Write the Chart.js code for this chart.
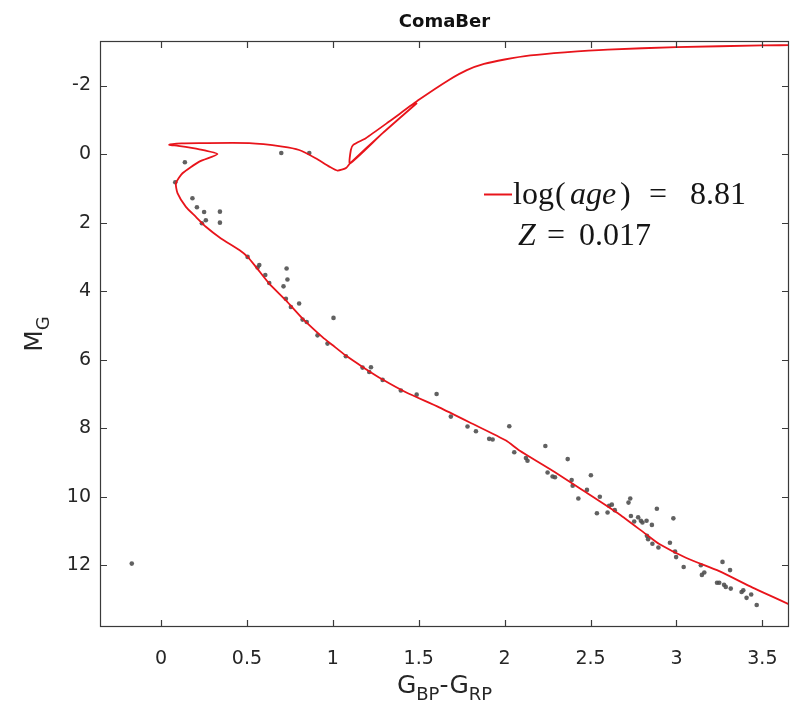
<!DOCTYPE html>
<html>
<head>
<meta charset="utf-8">
<title>ComaBer</title>
<script src="https://cdn.jsdelivr.net/npm/chart.js@4.4.1/dist/chart.umd.min.js"></script>
<style>
  html, body { margin: 0; padding: 0; background: #ffffff; }
  #wrap { width: 790px; height: 705px; }
</style>
</head>
<body>
<div id="wrap"><canvas id="cmd" width="790" height="705"></canvas></div>
<script>
// PARSEC-style isochrone, traced from the faint end of the main sequence to the AGB
const isoColor = [3.70, 3.656, 3.443, 3.249, 3.055, 2.90, 2.822, 2.667, 2.473, 2.279, 2.086, 2.008,
  1.813, 1.619, 1.425, 1.29, 1.173, 1.076, 1.00, 0.94, 0.824, 0.727, 0.63, 0.552, 0.504, 0.456,
  0.349, 0.261, 0.203, 0.145, 0.096, 0.087, 0.125, 0.223, 0.329, 0.223, 0.10, 0.048, 0.12, 0.222,
  0.514, 0.707, 0.804, 0.90, 0.98, 1.027, 1.076, 1.10, 1.29, 1.49, 1.29, 1.10, 1.105, 1.119,
  1.192, 1.328, 1.503, 1.678, 1.78, 1.88, 2.0, 2.15, 2.35, 2.6, 3.0, 3.5, 3.7];
const isoMag = [13.27, 13.14, 12.65, 12.17, 11.78, 11.38, 11.09, 10.51, 9.87, 9.24, 8.65, 8.36,
  7.87, 7.39, 6.95, 6.58, 6.21, 5.88, 5.58, 5.34, 4.80, 4.27, 3.78, 3.29, 3.00, 2.80,
  2.46, 2.12, 1.83, 1.54, 1.14, 0.85, 0.56, 0.22, 0.0, -0.14, -0.24, -0.27, -0.31, -0.32,
  -0.32, -0.22, -0.12, 0.12, 0.365, 0.48, 0.41, 0.27, -0.61, -1.49, -0.61, 0.27, -0.12, -0.27,
  -0.465, -0.95, -1.59, -2.17, -2.45, -2.63, -2.76, -2.88, -2.97, -3.05, -3.12, -3.17, -3.18];

// Cluster members: BP-RP colour and absolute G magnitude
const starColor = [-0.17, 0.70, 0.863, 0.139, 0.083, 0.183, 0.209, 0.251, 0.343, 0.261, 0.238, 0.343,
  0.504, 0.572, 0.562, 0.607, 0.63, 0.731, 0.736, 0.713, 0.727, 0.756, 0.804, 0.824, 0.848, 1.004,
  0.911, 0.969, 1.076, 1.173, 1.222,
  1.212, 1.29, 1.396, 1.488, 1.604, 1.687, 1.784, 1.833, 1.91, 1.93, 2.027, 2.056, 2.124, 2.133,
  2.237, 2.25, 2.279,
  2.293, 2.367, 2.39, 2.396, 2.429, 2.479, 2.502, 2.537, 2.554, 2.599, 2.608, 2.624, 2.641, 2.721,
  2.731, 2.735, 2.754, 2.777, 2.793, 2.802, 2.826, 2.857, 2.886, 2.828, 2.835, 2.86, 2.895, 2.962,
  2.982, 2.992, 2.998, 3.042, 3.142, 3.148, 3.162, 3.236, 3.249, 3.268, 3.277, 3.287, 3.316, 3.312,
  3.379, 3.389, 3.408, 3.435, 3.467];
const starMag = [11.95, -0.03, -0.03, 0.24, 0.82, 1.29, 1.55, 1.69, 1.68, 1.93, 2.02, 2.00,
  3.00, 3.24, 3.31, 3.53, 3.76, 3.34, 3.66, 3.86, 4.22, 4.46, 4.36, 4.83, 4.90, 4.78,
  5.29, 5.53, 5.90, 6.23, 6.22,
  6.36, 6.59, 6.90, 7.02, 7.00, 7.66, 7.95, 8.09, 8.31, 8.33, 7.94, 8.70, 8.87, 8.95,
  8.52, 9.29, 9.41,
  9.43, 8.90, 9.51, 9.68, 10.05, 9.80, 9.37, 10.48, 10.00, 10.46, 10.26, 10.23, 10.39, 10.17,
  10.05, 10.56, 10.72, 10.60, 10.70, 10.75, 10.70, 10.82, 10.35, 11.14, 11.24, 11.37, 11.48, 11.34,
  10.63, 11.60, 11.76, 12.05, 12.00, 12.28, 12.21, 12.51, 12.51, 11.90, 12.57, 12.63, 12.68, 12.14,
  12.78, 12.73, 12.95, 12.85, 13.16];

const xTicks = [0, 0.5, 1, 1.5, 2, 2.5, 3, 3.5];
const yTicks = [-2, 0, 2, 4, 6, 8, 10, 12];
const xLimits = [-0.355, 3.655];
const yLimits = [-3.3, 13.8];

const toPoints = (xs, ys) => xs.map((x, i) => ({ x: x, y: ys[i] }));

const AXIS_COLOR = '#3a3a3a';
const TEXT_COLOR = '#262626';
const SANS = '"DejaVu Sans", sans-serif';
const SERIF = '"Liberation Serif", "DejaVu Serif", serif';

// Draws a run of text pieces (with optional subscripts) on a shared baseline
function drawRuns(ctx, runs, x, y, align) {
  let total = 0;
  runs.forEach(r => { ctx.font = r.font; r.w = ctx.measureText(r.t).width; total += r.w; });
  let cx = align === 'center' ? x - total / 2 : x;
  runs.forEach(r => {
    ctx.font = r.font;
    ctx.fillText(r.t, cx, y + (r.dy || 0));
    cx += r.w;
  });
}

const framePlugin = {
  id: 'frame',
  afterDatasetsDraw(chart) {
    const { ctx, chartArea: a, scales } = chart;
    const tick = 7;
    ctx.save();
    ctx.strokeStyle = AXIS_COLOR;
    ctx.lineWidth = 1.2;
    ctx.strokeRect(a.left + 0.5, a.top + 0.5, a.right - a.left - 1, a.bottom - a.top - 1);
    ctx.beginPath();
    xTicks.forEach(v => {
      const px = Math.round(scales.x.getPixelForValue(v)) + 0.5;
      ctx.moveTo(px, a.bottom); ctx.lineTo(px, a.bottom - tick);
      ctx.moveTo(px, a.top); ctx.lineTo(px, a.top + tick);
    });
    yTicks.forEach(v => {
      const py = Math.round(scales.y.getPixelForValue(v)) + 0.5;
      ctx.moveTo(a.left, py); ctx.lineTo(a.left + tick, py);
      ctx.moveTo(a.right, py); ctx.lineTo(a.right - tick, py);
    });
    ctx.stroke();

    ctx.fillStyle = '#111111';
    ctx.textBaseline = 'alphabetic';
    ctx.textAlign = 'left';

    // title
    drawRuns(ctx, [{ t: 'ComaBer', font: 'bold 18px ' + SANS }], (a.left + a.right) / 2, 27, 'center');

    // x-axis title: G_BP - G_RP
    ctx.fillStyle = TEXT_COLOR;
    const big = '25px ' + SANS, small = '18px ' + SANS;
    drawRuns(ctx, [
      { t: 'G', font: big }, { t: 'BP', font: small, dy: 7 },
      { t: '-G', font: big }, { t: 'RP', font: small, dy: 7 }
    ], (a.left + a.right) / 2, 693, 'center');

    // y-axis title: M_G
    ctx.save();
    ctx.translate(42, (a.top + a.bottom) / 2);
    ctx.rotate(-Math.PI / 2);
    drawRuns(ctx, [{ t: 'M', font: big }, { t: 'G', font: small, dy: 7 }], 0, 0, 'center');
    ctx.restore();

    // legend: line sample with the isochrone parameters
    ctx.strokeStyle = '#e8141b';
    ctx.lineWidth = 2;
    ctx.beginPath(); ctx.moveTo(484, 194.5); ctx.lineTo(512, 194.5); ctx.stroke();
    ctx.fillStyle = '#151515';
    const rm = '32px ' + SERIF, it = 'italic 32px ' + SERIF;
    ctx.font = rm; ctx.fillText('log', 513, 204);
    ctx.font = rm; ctx.fillText('(', 555, 204);
    ctx.font = it; ctx.fillText('age', 570, 204);
    ctx.font = rm; ctx.fillText(')', 620, 204);
    ctx.font = rm; ctx.fillText('=', 649, 204);
    ctx.font = rm; ctx.fillText('8.81', 690, 204);
    ctx.font = it; ctx.fillText('Z', 518, 245);
    ctx.font = rm; ctx.fillText('=', 547, 245);
    ctx.font = rm; ctx.fillText('0.017', 579, 245);
    ctx.restore();
  }
};

new Chart(document.getElementById('cmd'), {
  type: 'scatter',
  data: {
    datasets: [
      {
        label: 'isochrone',
        data: toPoints(isoColor, isoMag),
        showLine: true,
        borderColor: '#e8141b',
        borderWidth: 1.8,
        pointRadius: 0,
        tension: 0.2,
        fill: false
      },
      {
        label: 'members',
        data: toPoints(starColor, starMag),
        showLine: false,
        pointRadius: 2.3,
        pointBorderWidth: 0,
        backgroundColor: 'rgba(80,80,80,0.9)',
        borderColor: 'rgba(80,80,80,0.9)'
      }
    ]
  },
  options: {
    responsive: false,
    animation: false,
    devicePixelRatio: 1,
    layout: { autoPadding: false, padding: { top: 41, right: 1, left: 0, bottom: 0 } },
    plugins: { legend: { display: false }, tooltip: { enabled: false }, title: { display: false } },
    scales: {
      x: {
        type: 'linear',
        min: xLimits[0], max: xLimits[1],
        grid: { display: false, drawTicks: false },
        border: { display: false },
        afterFit(s) { s.height = 78; s.paddingLeft = 0; s.paddingRight = 0; },
        afterBuildTicks(s) { s.ticks = xTicks.map(v => ({ value: v })); },
        ticks: {
          padding: 21,
          color: TEXT_COLOR,
          font: { family: 'DejaVu Sans', size: 19 },
          maxRotation: 0,
          callback: v => String(v)
        }
      },
      y: {
        type: 'linear',
        reverse: true,
        min: yLimits[0], max: yLimits[1],
        grid: { display: false, drawTicks: false },
        border: { display: false },
        afterFit(s) { s.width = 100; s.paddingTop = 0; s.paddingBottom = 0; },
        afterBuildTicks(s) { s.ticks = yTicks.map(v => ({ value: v })); },
        ticks: {
          padding: 9,
          color: TEXT_COLOR,
          font: { family: 'DejaVu Sans', size: 19 },
          callback: v => String(v)
        }
      }
    }
  },
  plugins: [framePlugin]
});
</script>
</body>
</html>
